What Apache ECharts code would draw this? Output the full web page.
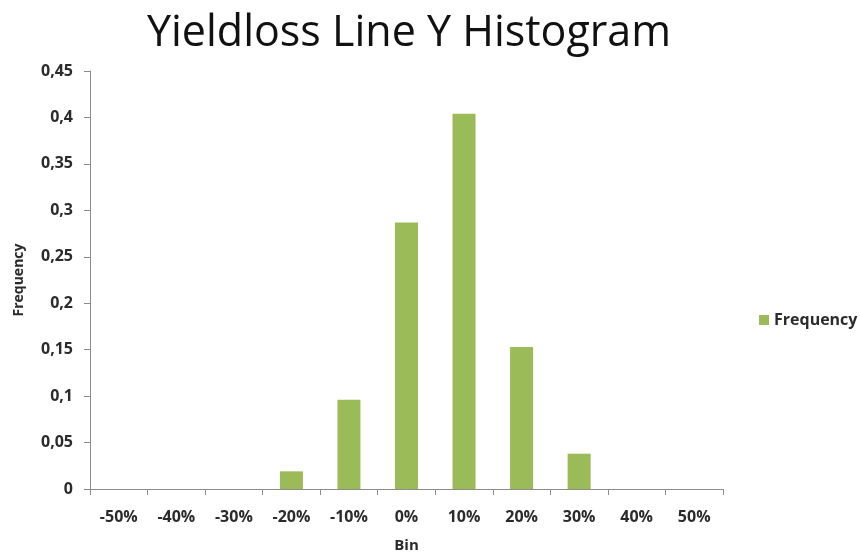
<!DOCTYPE html>
<html>
<head>
<meta charset="utf-8">
<script src="https://cdn.jsdelivr.net/npm/echarts@6/dist/echarts.min.js"></script>
<style>
  html, body { margin: 0; padding: 0; background: #fff; }
  #chart { width: 860px; height: 558px; }
</style>
</head>
<body>
<div id="chart"></div>
<script>
// Bins of the yield-loss distribution and their relative frequencies
const bins = ['-50%', '-40%', '-30%', '-20%', '-10%', '0%', '10%', '20%', '30%', '40%', '50%'];
const frequency = [0, 0, 0, 0.019, 0.096, 0.287, 0.404, 0.153, 0.038, 0, 0];
const yTicks = [0, 0.05, 0.1, 0.15, 0.2, 0.25, 0.3, 0.35, 0.4, 0.45];

const font = '"Open Sans", "DejaVu Sans", sans-serif';
const axisColor = '#8c8c8c';
const textColor = '#2b2b2b';

const chart = echarts.init(document.getElementById('chart'), null, { renderer: 'canvas' });
chart.setOption({
  animation: false,
  title: {
    text: 'Yieldloss Line Y Histogram',
    left: 404,
    textAlign: 'center',
    top: 7,
    textStyle: { fontFamily: font, fontSize: 43, fontWeight: 'normal', color: '#111' }
  },
  legend: {
    data: ['Frequency'],
    left: 754,
    top: 307,
    itemWidth: 10,
    itemHeight: 10,
    itemGap: 6,
    icon: 'rect',
    textStyle: { fontFamily: font, fontSize: 16, color: textColor, fontWeight: 'bold' }
  },
  grid: { left: 90, right: 137, top: 71, bottom: 68, containLabel: false },
  xAxis: {
    type: 'category',
    data: bins,
    name: 'Bin',
    nameLocation: 'middle',
    nameGap: 49,
    nameTextStyle: { fontFamily: font, fontSize: 15, fontWeight: 'bold', color: textColor },
    axisLine: { lineStyle: { color: axisColor, width: 1 } },
    axisTick: { show: true, length: 6, lineStyle: { color: axisColor } },
    axisLabel: { fontFamily: font, fontSize: 16, color: textColor, fontWeight: 'bold', margin: 20 },
    splitLine: { show: false }
  },
  yAxis: {
    type: 'value',
    min: 0,
    max: 0.45,
    interval: 0.05,
    name: 'Frequency',
    nameLocation: 'middle',
    nameGap: 64,
    nameRotate: 90,
    nameTextStyle: { fontFamily: font, fontSize: 14, fontWeight: 'bold', color: textColor },
    axisLine: { show: true, lineStyle: { color: axisColor, width: 1 } },
    axisTick: { show: true, length: 6, lineStyle: { color: axisColor } },
    axisLabel: {
      fontFamily: font, fontSize: 16, color: textColor, fontWeight: 'bold', margin: 17,
      formatter: function (v) {
        const t = yTicks.find(function (k) { return Math.abs(k - v) < 1e-9; });
        return (t === undefined ? v : t).toString().replace('.', ',');
      }
    },
    splitLine: { show: false }
  },
  series: [{
    name: 'Frequency',
    type: 'bar',
    data: frequency,
    barWidth: '40%',
    itemStyle: { color: '#9BBB59' }
  }]
});
</script>
</body>
</html>
